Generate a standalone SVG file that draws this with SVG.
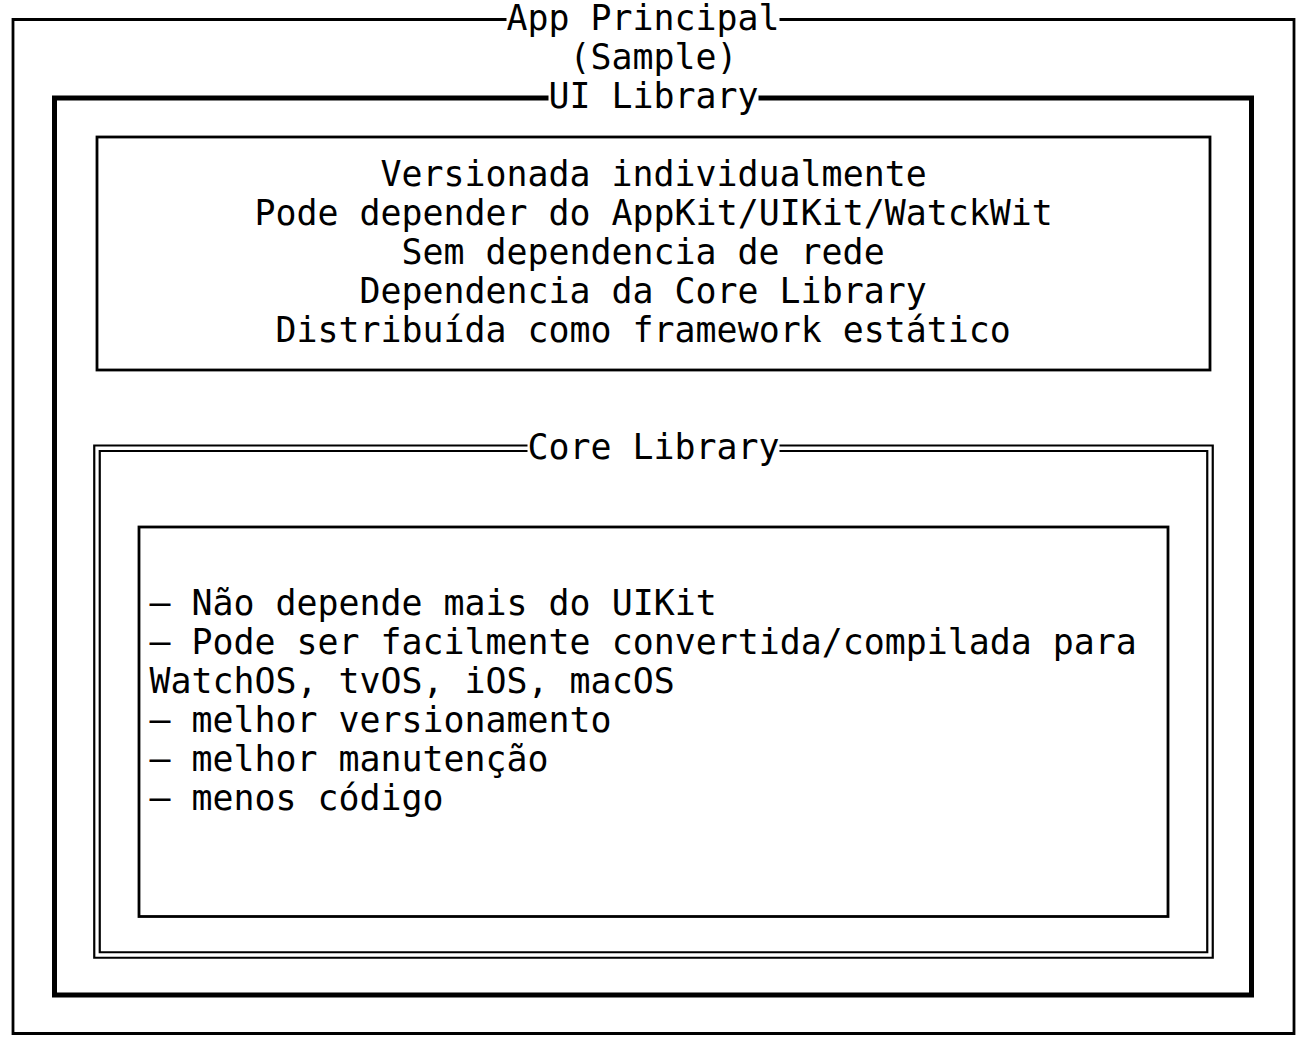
<svg xmlns="http://www.w3.org/2000/svg" width="1305" height="1056" viewBox="0 0 1305 1056">
  <style>
    .t { font-family: "DejaVu Sans Mono", "Liberation Mono", monospace; font-size: 34.9px; fill: #000; }
    .light { fill: none; stroke: #000; stroke-width: 2.8; }
    .heavy { fill: none; stroke: #000; stroke-width: 5; }
    .dbl { fill: none; stroke: #000; stroke-width: 2.2; }
  </style>
  <rect width="1305" height="1056" fill="#fff"/>

  <g id="app-principal">
    <path class="light" d="M506.5,19.5 H13 V1033.5 H1294 V19.5 H779.5"/>
    <text class="t" x="506.5" y="30">App Principal</text>
    <text class="t" x="569.5" y="69">(Sample)</text>
  </g>

  <g id="ui-library">
    <path class="heavy" d="M548.5,98 H54.5 V995 H1251.5 V98 H758.5"/>
    <text class="t" x="548.5" y="108">UI Library</text>
  </g>

  <g id="ui-description">
    <rect class="light" x="97" y="137" width="1113" height="233"/>
    <text class="t" x="380.5" y="186">Versionada individualmente</text>
    <text class="t" x="254.5" y="225">Pode depender do AppKit/UIKit/WatckWit</text>
    <text class="t" x="401.5" y="264">Sem dependencia de rede</text>
    <text class="t" x="359.5" y="303">Dependencia da Core Library</text>
    <text class="t" x="275.5" y="342">Distribuída como framework estático</text>
  </g>

  <g id="core-library">
    <path class="dbl" d="M527.5,445.5 H94.25 V957.75 H1212.75 V445.5 H779.5"/>
    <path class="dbl" d="M527.5,451 H99.75 V952.25 H1207.25 V451 H779.5"/>
    <text class="t" x="527.5" y="459">Core Library</text>
  </g>

  <g id="core-description">
    <rect class="light" x="139" y="527" width="1029" height="389.5"/>
    <text class="t" x="149.5" y="615">– Não depende mais do UIKit</text>
    <text class="t" x="149.5" y="654">– Pode ser facilmente convertida/compilada para</text>
    <text class="t" x="149.5" y="693">WatchOS, tvOS, iOS, macOS</text>
    <text class="t" x="149.5" y="732">– melhor versionamento</text>
    <text class="t" x="149.5" y="771">– melhor manutenção</text>
    <text class="t" x="149.5" y="810">– menos código</text>
  </g>

  <g id="connectors"></g>
</svg>
